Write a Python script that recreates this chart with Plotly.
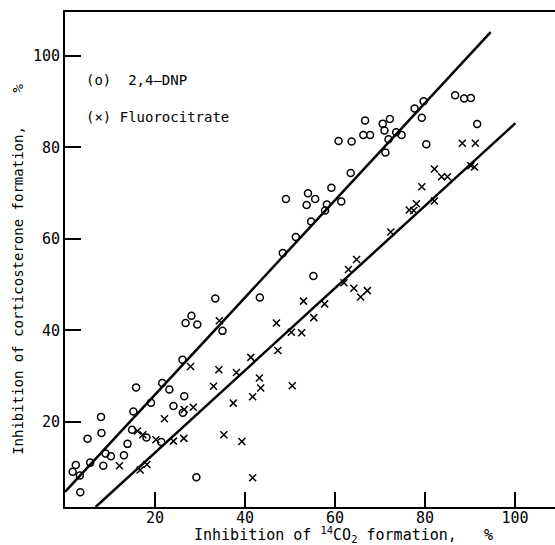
import plotly.graph_objects as go

# 2,4-DNP (open circles)
dnp_x = [1.7, 2.4, 3.3, 3.4, 5.0, 5.6, 8.0, 8.1, 8.5, 9.0, 10.2, 13.1, 13.9, 15.2, 14.9, 15.8,
         18.1, 19.1, 21.4, 21.6, 23.2, 24.1, 26.1, 26.5, 26.2, 26.8, 28.1, 29.4, 29.2, 33.4,
         35.0, 43.3, 48.4, 49.1, 51.3, 53.7, 54.0, 54.7, 55.2, 55.6, 57.8, 58.2, 59.2, 60.8,
         61.4, 63.5, 63.7, 66.3, 66.7, 67.8, 70.6, 71.0, 71.2, 71.9, 72.2, 73.6, 74.8, 77.7,
         79.3, 79.7, 80.3, 86.7, 88.7, 90.2, 91.6]
dnp_y = [9.1, 10.6, 8.3, 4.6, 16.3, 11.1, 21.1, 17.6, 10.4, 13.1, 12.5, 12.7, 15.2, 22.3, 18.3, 27.5,
         16.6, 24.2, 15.6, 28.5, 27.1, 23.5, 33.6, 25.6, 22.0, 41.6, 43.2, 41.3, 7.9, 47.0,
         39.9, 47.2, 56.9, 68.7, 60.4, 67.4, 70.0, 63.8, 51.9, 68.7, 66.2, 67.5, 71.2, 81.4,
         68.2, 74.4, 81.3, 82.7, 85.9, 82.7, 85.2, 83.7, 78.9, 81.8, 86.2, 83.3, 82.7, 88.5,
         86.5, 90.1, 80.7, 91.4, 90.7, 90.8, 85.1]

# Fluorocitrate (crosses)
flu_x = [12.1, 16.7, 18.2, 16.1, 17.3, 20.2, 22.1, 24.1, 26.4, 26.5, 28.5, 27.9, 33.0, 34.2,
         34.3, 35.3, 37.4, 38.1, 39.3, 41.3, 41.7, 41.7, 43.2, 43.5, 47.0, 47.3, 50.3, 50.5,
         52.6, 53.0, 55.3, 57.7, 62.0, 63.0, 64.2, 64.8, 65.7, 67.2, 72.4, 76.5, 77.5, 78.1,
         79.3, 82.1, 82.1, 83.7, 85.0, 88.3, 91.2, 90.2, 91.0]
flu_y = [10.4, 9.5, 10.7, 18.0, 17.2, 16.1, 20.7, 15.8, 16.4, 22.7, 23.2, 32.1, 27.8, 31.4,
         42.1, 17.2, 24.1, 30.8, 15.7, 34.1, 25.5, 7.8, 29.6, 27.4, 41.6, 35.6, 39.6, 27.9,
         39.5, 46.4, 42.8, 45.8, 50.4, 53.3, 49.2, 55.5, 47.3, 48.7, 61.5, 66.3, 66.2, 67.7,
         71.4, 68.3, 75.3, 73.6, 73.6, 80.9, 80.9, 76.0, 75.7]

# fitted lines, end points
dnp_fit_x = [0, 94.6]
dnp_fit_y = [4.7, 105.2]
flu_fit_x = [6.8, 100.1]
flu_fit_y = [1.4, 85.3]

tick_vals = [20, 40, 60, 80, 100]
tick_text = ["20", "40", "60", "80", "100"]

# lettering-stencil look: near monospaced
FONT = "DejaVu Sans Mono"

fig = go.Figure()
fig.add_trace(go.Scatter(x=dnp_fit_x, y=dnp_fit_y, mode="lines",
                         line=dict(color="black", width=2.5), showlegend=False))
fig.add_trace(go.Scatter(x=flu_fit_x, y=flu_fit_y, mode="lines",
                         line=dict(color="black", width=2.5), showlegend=False))
fig.add_trace(go.Scatter(x=dnp_x, y=dnp_y, mode="markers", name="2,4-DNP",
                         marker=dict(symbol="circle-open", size=7, color="black",
                                     line=dict(width=1.5, color="black")),
                         showlegend=False))
fig.add_trace(go.Scatter(x=flu_x, y=flu_y, mode="markers", name="Fluorocitrate",
                         marker=dict(symbol="x-thin-open", size=7, color="black",
                                     line=dict(width=1.5, color="black")),
                         showlegend=False))

fig.add_annotation(x=4.3, y=94.8, xref="x", yref="y", text="(o)  2,4\u2013DNP",
                   showarrow=False, xanchor="left", yanchor="middle",
                   font=dict(family=FONT, size=14, color="black"))
fig.add_annotation(x=4.3, y=86.7, xref="x", yref="y", text="(\u00d7) Fluorocitrate",
                   showarrow=False, xanchor="left", yanchor="middle",
                   font=dict(family=FONT, size=14, color="black"))

# axis titles
fig.add_annotation(x=-0.096, y=0.481, xref="paper", yref="paper", textangle=-90,
                   xanchor="center", yanchor="middle",
                   text="Inhibition of corticosterone formation,\u00a0\u00a0\u00a0\u00a0%",
                   showarrow=False, font=dict(family=FONT, size=14, color="black"))
fig.add_annotation(x=0.568, y=-0.056, xref="paper", yref="paper",
                   xanchor="center", yanchor="middle",
                   text="Inhibition of <sup>14</sup>CO<sub>2</sub> formation,\u00a0\u00a0\u00a0%",
                   showarrow=False,
                   font=dict(family=FONT, size=15, color="black"))

fig.update_xaxes(range=[0, 108.9], tickvals=tick_vals, ticktext=tick_text,
                 ticks="inside", ticklen=15, tickwidth=1.5, tickcolor="black",
                 showline=True, linecolor="black", linewidth=2, mirror=True,
                 showgrid=False, zeroline=False, automargin=False, ticklabelstandoff=-4,
                 tickfont=dict(family=FONT, size=15, color="black"))
fig.update_yaxes(range=[1.4, 109.6], tickvals=tick_vals, ticktext=tick_text,
                 ticks="inside", ticklen=16, tickwidth=1.5, tickcolor="black",
                 showline=True, linecolor="black", linewidth=2, mirror=False,
                 showgrid=False, zeroline=False, automargin=False,
                 tickfont=dict(family=FONT, size=15, color="black"))

fig.update_layout(width=555, height=545, plot_bgcolor="white", paper_bgcolor="white",
                  margin=dict(l=65, r=0, t=12, b=38))

# page body has a default 8px margin, drop it so the figure sits at 0,0
fig.write_html("out.html", config={"displayModeBar": False},
               post_script="document.body.style.margin='0';")
